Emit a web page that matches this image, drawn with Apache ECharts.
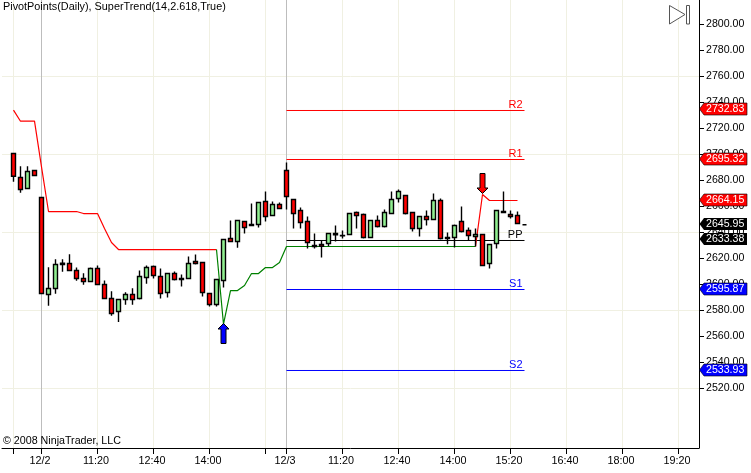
<!DOCTYPE html>
<html><head><meta charset="utf-8">
<script src="https://cdn.jsdelivr.net/npm/echarts@6/dist/echarts.min.js"></script>
<style>html,body{margin:0;padding:0;background:#fff}#c{width:751px;height:473px}</style>
</head><body><div id="c"></div>
<script>
// open, close, low, high – bars are 10 minutes apart
const candles = [
[2700.74,2683.31,2678.95,2700.74],[2682.28,2673.05,2670.49,2691.00],[2673.82,2686.90,2673.82,2691.00],[2687.67,2683.82,2683.82,2687.67],
[2666.90,2593.05,2593.05,2666.90],[2592.28,2596.90,2583.56,2613.31],[2596.90,2615.36,2592.79,2619.46],[2616.38,2615.36,2609.72,2619.46],
[2616.13,2610.74,2610.74,2623.31],[2610.74,2604.59,2602.79,2613.05],[2604.59,2602.28,2599.72,2608.69],[2602.28,2612.28,2602.28,2613.05],
[2612.28,2599.97,2599.97,2614.59],[2599.97,2589.20,2589.20,2603.05],[2589.20,2577.67,2575.87,2594.84],[2579.20,2588.43,2571.25,2588.43],
[2588.43,2592.28,2584.33,2594.08],[2592.28,2588.43,2584.33,2597.15],[2589.20,2606.13,2588.43,2610.74],[2605.36,2613.05,2600.49,2614.59],
[2613.82,2606.90,2604.59,2614.59],[2606.13,2593.05,2589.21,2612.28],[2593.82,2608.44,2589.98,2608.44],[2608.44,2603.82,2603.05,2609.98],
[2604.59,2603.82,2598.44,2607.67],[2604.59,2616.13,2604.59,2621.52],[2617.67,2616.13,2615.36,2623.05],[2616.90,2593.82,2590.75,2616.90],
[2593.05,2584.59,2583.05,2593.05],[2584.59,2603.82,2583.05,2603.82],[2603.05,2634.59,2597.67,2634.59],[2635.36,2633.05,2633.05,2649.21],
[2633.05,2649.21,2628.18,2649.21],[2648.44,2643.82,2639.21,2648.44],[2646.13,2645.36,2645.36,2662.28],[2646.13,2663.05,2643.82,2663.05],
[2663.82,2652.28,2648.44,2671.52],[2653.05,2661.52,2653.05,2663.82],[2661.52,2658.44,2658.44,2663.05],[2687.67,2667.67,2657.67,2693.82],
[2665.36,2654.59,2643.05,2665.36],[2656.90,2647.67,2643.05,2659.21],[2648.44,2632.28,2627.67,2652.28],[2629.98,2629.21,2627.67,2639.21],
[2630.75,2629.46,2620.75,2633.82],[2631.52,2639.21,2629.46,2639.21],[2639.21,2638.18,2633.05,2645.36],[2637.67,2637.41,2635.36,2641.52],
[2638.44,2654.59,2638.44,2654.59],[2655.36,2653.05,2643.05,2656.13],[2653.82,2636.13,2635.36,2654.59],[2636.13,2649.21,2636.13,2649.21],
[2649.21,2644.59,2643.82,2653.05],[2644.59,2655.36,2643.82,2657.67],[2654.59,2665.36,2654.59,2671.52],[2666.13,2671.52,2663.05,2673.05],
[2668.44,2654.59,2653.82,2668.44],[2655.36,2643.05,2640.75,2655.36],[2643.05,2652.28,2636.90,2652.28],[2652.28,2649.98,2645.36,2656.90],
[2649.98,2664.59,2649.98,2669.98],[2664.59,2635.36,2634.59,2666.13],[2636.13,2635.36,2631.00,2639.98],[2636.13,2645.36,2628.44,2646.13],
[2648.44,2640.75,2639.98,2659.98],[2641.52,2637.67,2633.82,2643.82],[2636.90,2638.44,2629.21,2643.05],[2638.44,2614.59,2614.59,2638.44],
[2616.13,2630.75,2612.28,2630.75],[2631.52,2656.90,2627.67,2656.90],[2656.13,2655.36,2655.36,2671.52],[2653.82,2652.28,2650.75,2656.90],
[2653.05,2646.90,2646.90,2656.13],[2645.95,2645.95,2645.95,2645.95]
];
const superTrendDown1 = [[0,2734.08],[1,2725.61],[3,2725.61],[4,2690.49],[5,2656.13],[9,2656.13],[10,2654.59],[12,2654.59],[13,2643.05],[14,2632.28],[15,2626.90],[29,2626.90]];
const superTrendUp = [[29,2626.90],[30,2569.46],[31,2595.36],[32,2595.36],[33,2599.21],[34,2608.44],[35,2608.44],[36,2613.05],[37,2613.05],[38,2616.90],[39,2629.23],[66,2629.23]];
const superTrendDown2 = [[66,2629.23],[67,2669.21],[68,2664.62],[72,2664.62]];

const levelNames  = ['R2','R1','PP','S1','S2'];
const levelValues = [2733.85,2696.15,2633.85,2596.15,2533.85];
const levelColors = ['#ff0000','#ff0000','#000000','#0000ff','#0000ff'];
const levelStart = 39, levelEnd = 73;

const tagTexts  = ['2732.83','2695.32','2664.15','2645.95','2633.38','2595.87','2533.93'];
const tagLevels = [2735.0,2696.4,2665.0,2646.5,2635.0,2596.4,2534.6];
const tagColors = ['#ff0000','#ff0000','#ff0000','#000000','#000000','#0000ff','#0000ff'];

const arrowBars   = [30,67];
const arrowPrices = [2570.0,2670.0];
const arrowDirs   = [1,-1];
const arrowColors = ['#0000ff','#ff0000'];

const priceTicks = [2520,2540,2560,2580,2600,2620,2640,2660,2680,2700,2720,2740,2760,2780,2800];
const priceGrid  = [2520,2580,2640,2700,2760];
const timeTicks  = [0,4,12,20,28,36,39,47,55,63,71,79,87,95];
const timeLabelBars = [4,12,20,28,39,47,55,63,71,79,87,95];
const timeLabels = ['12/2','11:20','12:40','14:00','12/3','11:20','12:40','14:00','15:20','16:40','18:00','19:20'];
const dayBars = [4,39];
const lightBars = [0,12,20,28,36,47,55,63,71,79,87,95];

const FONT = '"Liberation Sans", Arial, sans-serif';
const GRID_L = 2, GRID_W = 697, GRID_H = 448, BAR_PX = 7, PX_PER_PT = 1.3;
const xMin = -(13.5 - GRID_L) / BAR_PX, xMax = xMin + GRID_W / BAR_PX;
const yMax = 2800 + 24.5 / PX_PER_PT, yMin = yMax - GRID_H / PX_PER_PT;

const chart = echarts.init(document.getElementById('c'), null, {renderer:'canvas'});
const lineSeries = (d,c) => ({type:'line',data:d,symbol:'none',silent:true,z:3,animation:false,
  lineStyle:{color:c,width:1.2}});
chart.setOption({
  animation:false, backgroundColor:'#ffffff',
  grid:{left:GRID_L,top:0,width:GRID_W,height:GRID_H,show:false},
  xAxis:{type:'value',min:xMin,max:xMax,splitLine:{show:false},
    axisLine:{onZero:false,lineStyle:{color:'#000',width:1}},
    axisTick:{show:true,length:6,inside:false,customValues:timeTicks,lineStyle:{color:'#000'}},
    axisLabel:{show:true,customValues:timeLabelBars,margin:8,padding:[0,3,0,0],color:'#000',fontSize:10.8,fontFamily:FONT,
      formatter:v=>timeLabels[timeLabelBars.indexOf(Math.round(v))]||''}},
  yAxis:{type:'value',position:'right',min:yMin,max:yMax,splitLine:{show:false},
    axisLine:{show:true,onZero:false,lineStyle:{color:'#000',width:1}},
    axisTick:{show:true,length:5,customValues:priceTicks,lineStyle:{color:'#000'}},
    axisLabel:{show:true,customValues:priceTicks,margin:7,color:'#000',fontSize:10.6,fontFamily:FONT,
      formatter:v=>Number(v).toFixed(2)}},
  series:[
    {type:'line',data:[],silent:true,z:1,markLine:{z:1,silent:true,symbol:'none',animation:false,label:{show:false},
      lineStyle:{color:'#f0f0e2',width:1,type:'solid'},
      data:priceGrid.map(v=>({yAxis:v})).concat(lightBars.map(v=>({xAxis:v})))}},
    {type:'line',data:[],silent:true,z:1,markLine:{z:1,silent:true,symbol:'none',animation:false,label:{show:false},
      lineStyle:{color:'#bdbdbd',width:1,type:'solid'},
      data:dayBars.map(v=>({xAxis:v}))}},
    {type:'custom',coordinateSystem:'cartesian2d',z:2,silent:true,clip:false,
      data:levelValues.map((v,i)=>[levelStart,v,levelEnd,i]),
      encode:{x:[0,2],y:1},
      renderItem:(p,api)=>{
        const a=api.coord([api.value(0),api.value(1)]), b=api.coord([api.value(2),api.value(1)]);
        const i=api.value(3);
        return {type:'group',children:[
          {type:'line',shape:{x1:a[0],y1:a[1],x2:b[0],y2:b[1]},style:{stroke:levelColors[i],lineWidth:1}},
          {type:'text',x:b[0]-2,y:a[1]-5.5,style:{text:levelNames[i],fill:levelColors[i],font:'11px '+FONT,align:'right',verticalAlign:'middle'}}
        ]};
      }},
    {type:'candlestick',z:4,silent:true,barWidth:5,
      data:candles.map((c,i)=>[i,c[0],c[1],c[2],c[3]]),
      itemStyle:{color:'#90ee90',color0:'#ff0000',borderColor:'#000',borderColor0:'#000',borderColorDoji:'#000',borderWidth:1.4}},
    lineSeries(superTrendDown1,'#ff0000'),
    lineSeries(superTrendUp,'#008000'),
    lineSeries(superTrendDown2,'#ff0000'),
    {type:'custom',coordinateSystem:'cartesian2d',z:6,silent:true,clip:false,
      data:arrowBars.map((b,i)=>[b,arrowPrices[i],i]),
      encode:{x:0,y:1},
      renderItem:(p,api)=>{
        const c=api.coord([api.value(0),api.value(1)]), i=api.value(2), d=arrowDirs[i];
        const pts=[[0,0],[5.5,5.5],[2.5,5.5],[2.5,20],[-2.5,20],[-2.5,5.5],[-5.5,5.5]].map(q=>[c[0]+q[0],c[1]+d*q[1]]);
        return {type:'polygon',shape:{points:pts},style:{fill:arrowColors[i],stroke:'#000',lineWidth:1}};
      }},
    {type:'custom',coordinateSystem:'cartesian2d',z:8,silent:true,clip:false,
      data:tagLevels.map((v,i)=>[xMax,v,i]),
      encode:{x:0,y:1},
      renderItem:(p,api)=>{
        const c=api.coord([api.value(0),api.value(1)]), i=api.value(2), x=c[0], y=Math.round(c[1]);
        const pts=[[x+0.5,y],[x+5,y-6],[x+48,y-6],[x+48,y+6],[x+5,y+6]];
        return {type:'group',children:[
          {type:'polygon',shape:{points:pts},style:{fill:tagColors[i],stroke:'#000',lineWidth:tagColors[i]==='#000000'?0:0.6}},
          {type:'text',x:x+7,y:y+0.5,style:{text:tagTexts[i],fill:'#fff',font:'10.6px '+FONT,align:'left',verticalAlign:'middle'}}
        ]};
      }}
  ],
  graphic:[
    {type:'text',left:3,top:1,z:20,style:{text:'PivotPoints(Daily), SuperTrend(14,2.618,True)',fill:'#000',font:'10.85px '+FONT}},
    {type:'text',left:3,top:436,z:20,style:{text:'\u00a9 2008 NinjaTrader, LLC',fill:'#000',font:'10.7px '+FONT}},
    {type:'polygon',z:20,shape:{points:[[669.5,5.5],[685,14.5],[669.5,24]]},style:{fill:'#fff',stroke:'#555',lineWidth:1}},
    {type:'rect',z:20,shape:{x:686.5,y:5.5,width:3,height:18.5},style:{fill:'#fff',stroke:'#555',lineWidth:1}}
  ]
});
</script></body></html>
